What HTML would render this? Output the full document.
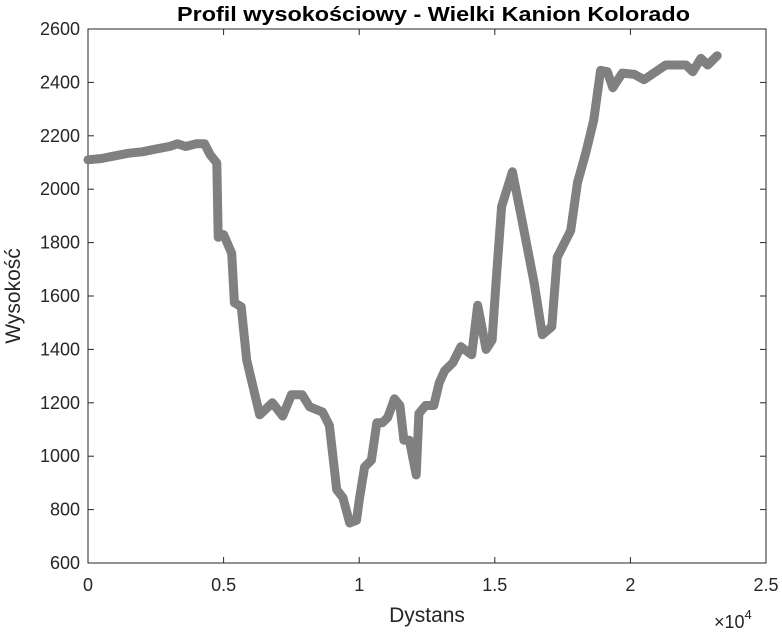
<!DOCTYPE html>
<html><head><meta charset="utf-8"><style>
body{margin:0;background:#fff;}
svg text{font-family:"Liberation Sans",sans-serif;fill:#262626;}
</style></head><body>
<svg id="chart" width="782" height="631" xmlns="http://www.w3.org/2000/svg">
<rect x="0" y="0" width="782" height="631" fill="#fff"/>
<text x="177" y="21" font-size="20" font-weight="bold" textLength="513" lengthAdjust="spacingAndGlyphs" style="fill:#000">Profil wysokościowy - Wielki Kanion Kolorado</text>
<g id="axes"></g>
<path id="profile" fill="none" stroke="#808080" stroke-width="9" stroke-linejoin="round" stroke-linecap="round"/>
<text x="427" y="622" text-anchor="middle" font-size="21">Dystans</text>
<text transform="translate(20,296) rotate(-90)" text-anchor="middle" font-size="21">Wysokość</text>
<text x="714" y="628" font-size="18">×10<tspan dy="-9" font-size="13">4</tspan></text>
</svg>
<script>
const distances=[0,500,1000,1500,2000,2500,3000,3300,3600,4000,4300,4500,4750,4800,5000,5300,5400,5650,5850,6330,6800,7180,7500,7900,8170,8650,8900,9170,9400,9650,9900,10000,10200,10450,10650,10850,11050,11300,11500,11650,11850,12100,12200,12450,12750,12950,13150,13450,13750,14150,14370,14680,14900,15050,15250,15650,16000,16450,16750,17100,17300,17800,18050,18350,18650,18900,19150,19350,19700,20150,20500,21300,22050,22300,22600,22850,23200];
const elevations=[2110,2115,2125,2135,2140,2150,2160,2170,2160,2170,2170,2130,2098,1820,1830,1760,1575,1560,1360,1155,1200,1150,1230,1230,1185,1165,1115,875,845,750,760,835,960,985,1125,1125,1145,1215,1190,1060,1060,930,1160,1190,1190,1275,1320,1350,1410,1380,1565,1400,1435,1660,1935,2065,1885,1650,1455,1485,1745,1845,2025,2135,2260,2445,2440,2380,2435,2430,2410,2465,2465,2440,2490,2465,2500];
const xTicks=[0,5000,10000,15000,20000,25000];
const xTickLabels=["0","0.5","1","1.5","2","2.5"];
const yTicks=[600,800,1000,1200,1400,1600,1800,2000,2200,2400,2600];
const L=88,R=766,T=29,B=563;
const xs=d=>L+(d/25000)*(R-L);
const ys=v=>B-(v-600)/2000*(B-T);
const NS="http://www.w3.org/2000/svg";
const ax=document.getElementById('axes');
function mk(tag,attrs){const e=document.createElementNS(NS,tag);for(const k in attrs)e.setAttribute(k,attrs[k]);ax.appendChild(e);return e;}
const box=mk('rect',{x:L,y:T,width:R-L,height:B-T,fill:'none',stroke:'#262626','stroke-width':1});


xTicks.forEach((t,i)=>{const x=xs(t);
 mk('line',{x1:x,y1:B,x2:x,y2:B-6,stroke:'#262626'});
 mk('line',{x1:x,y1:T,x2:x,y2:T+6,stroke:'#262626'});
 const tx=mk('text',{x:x,y:B+28,'text-anchor':'middle','font-size':18});tx.textContent=xTickLabels[i];
 
 
});
yTicks.forEach(t=>{const y=ys(t);
 mk('line',{x1:L,y1:y,x2:L+6,y2:y,stroke:'#262626'});
 mk('line',{x1:R,y1:y,x2:R-6,y2:y,stroke:'#262626'});
 const tx=mk('text',{x:L-8,y:y+6,'text-anchor':'end','font-size':18});tx.textContent=t;
 
 
});
document.getElementById('profile').setAttribute('d',distances.map((d,i)=>(i?'L':'M')+xs(d).toFixed(1)+','+ys(elevations[i]).toFixed(1)).join(''));
</script>
</body></html>
